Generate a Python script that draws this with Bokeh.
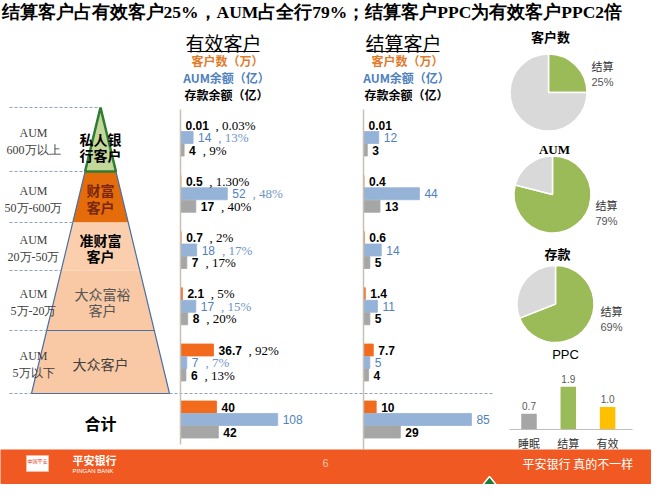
import math
from bokeh.plotting import figure
from bokeh.models import Range1d, ColumnDataSource
from bokeh.embed import file_html
from bokeh.resources import INLINE
from bokeh.core.properties import value

# ---------------- data ----------------
title = "结算客户占有效客户25%，AUM占全行79%；结算客户PPC为有效客户PPC2倍"
segments = [["私人银", "行客户"], ["财富", "客户"], ["准财富", "客户"], ["大众富裕", "客户"], ["大众客户"]]
aum_bands = ["600万以上", "50万-600万", "20万-50万", "5万-20万", "5万以下"]

eff_cust = [0.01, 0.5, 0.7, 2.1, 36.7]
eff_cust_pct = ["0.03%", "1.30%", "2%", "5%", "92%"]
eff_aum = [14, 52, 18, 17, 7]
eff_aum_pct = ["13%", "48%", "17%", "15%", "7%"]
eff_dep = [4, 17, 7, 8, 6]
eff_dep_pct = ["9%", "40%", "17%", "20%", "13%"]
eff_total = [40, 108, 42]

set_cust = [0.01, 0.4, 0.6, 1.4, 7.7]
set_aum = [12, 44, 14, 11, 5]
set_dep = [3, 13, 5, 5, 4]
set_total = [10, 85, 29]

pie_titles = ["客户数", "AUM", "存款"]
pie_share = [25, 79, 69]

ppc_cats = ["睡眠", "结算", "有效"]
ppc_vals = [0.7, 1.9, 1.0]

# ---------------- style ----------------
CJK = value("Noto Sans CJK SC")
SERIF = value("Liberation Serif")
SANS = value("Liberation Sans")
ORANGE = "#f26b1d"
BLUE = "#95b3d7"
GRAY = "#a6a6a6"
GREEN = "#9bbb59"
BLUE_TXT = "#4f81bd"

p = figure(width=651, height=484, x_range=Range1d(8, 659), y_range=Range1d(492, 8),
           output_backend="svg", toolbar_location=None, min_border=0,
           x_axis_location=None, y_axis_location=None)
p.grid.visible = False
p.outline_line_color = None
p.background_fill_color = "white"

EFF_X0, EFF_K = 188, 0.9
SET_X0, SET_K = 371, 1.27
PPC_Y0, PPC_K = 437, 22.5
p.extra_x_ranges = {"eff": Range1d((8 - EFF_X0) / EFF_K, (659 - EFF_X0) / EFF_K),
                    "set": Range1d((8 - SET_X0) / SET_K, (659 - SET_X0) / SET_K)}
p.extra_y_ranges = {"ppc": Range1d((PPC_Y0 - 492) / PPC_K, (PPC_Y0 - 8) / PPC_K)}

# ---------------- title ----------------
p.text(x=[9], y=[19], text=[title], text_font=SERIF, text_font_size="17.5px",
       text_font_style="bold", text_baseline="middle", text_align="left", text_color="black")

# ---------------- pyramid ----------------
AX, AY, BY, BH = 108, 115, 401, 69
bounds = [115, 179, 230, 278, 338, 401]
def hw(y):
    return BH * (y - AY) / (BY - AY)
layer_cols = ["#c4d79b", "#e46c0a", "#fbcfae", "#f9c8a4", "#f9c8a4"]
xs, ys = [], []
for i in range(5):
    t, b = bounds[i], bounds[i + 1]
    xs.append([AX - hw(t), AX + hw(t), AX + hw(b), AX - hw(b)])
    ys.append([t, t, b, b])
p.patches(xs=xs, ys=ys, fill_color=layer_cols, line_color=None)
p.line(x=[AX - BH, AX, AX + BH], y=[BY, AY, BY], line_color="#4a6fa5", line_width=1.2)
p.segment(x0=[AX - hw(338)], x1=[AX + hw(338)], y0=[338], y1=[338], line_color="#4a6fa5", line_width=1.2)
p.patch(x=xs[0], y=ys[0], fill_color=None, line_color="#2e7d32", line_width=2.5)

# dashed guides
dash_y = bounds[:-1]
p.segment(x0=[17] * len(dash_y), x1=[AX - hw(y) for y in dash_y], y0=dash_y, y1=dash_y,
          line_color="#8fa3bd", line_dash="3 2", line_width=1)
p.segment(x0=[17], x1=[500], y0=[BY], y1=[BY], line_color="#8fa3bd", line_dash="3 2", line_width=1)
p.segment(x0=[AX - BH], x1=[AX + BH], y0=[BY], y1=[BY], line_color="#4a6fa5", line_width=1.2)

# layer labels
seg_col = ["black", "#7b260a", "black", "#555555", "#404040"]
seg_style = ["bold", "bold", "bold", "normal", "normal"]
tx, ty, tt, tc, ts = [], [], [], [], []
for i, lines in enumerate(segments):
    t, b = bounds[i], bounds[i + 1]
    mid = t + 0.62 * (b - t) if i == 0 else (t + b) / 2 + 1.5
    n = len(lines)
    for j, s in enumerate(lines):
        tx.append(AX + (2 if i == 3 else 0))
        ty.append(mid + (j - (n - 1) / 2) * 16.5)
        tt.append(s)
        tc.append(seg_col[i])
        ts.append(seg_style[i])
p.text(x="x", y="y", text="t", text_color="c", text_font_style="s",
       source=ColumnDataSource(dict(x=tx, y=ty, t=tt, c=tc, s=ts)),
       text_font=CJK, text_font_size="14px", text_align="center", text_baseline="middle")

# AUM band labels
lx, ly, lt = [], [], []
for i, band in enumerate(aum_bands):
    t, b = bounds[i], bounds[i + 1]
    mid = (t + b) / 2 + 2
    lx += [41, 41]
    ly += [mid - 8.5, mid + 8.5]
    lt += ["AUM", band]
p.text(x=lx, y=ly, text=lt, text_font=SERIF, text_font_size="12px", text_color="#404040",
       text_align="center", text_baseline="middle")

p.text(x=[AX], y=[430], text=["合计"], text_font=CJK, text_font_size="16px",
       text_font_style="bold", text_align="center", text_baseline="middle", text_color="black")

# ---------------- bar panels ----------------
G0, GSTEP, ROW = 145, 56.25, 12.5
centers = [G0 + GSTEP * i for i in range(5)]
TOTAL_Y = 427

def fmt(v):
    return str(int(v)) if float(v).is_integer() else str(v)

def est_w(s):
    return sum(3.2 if ch == "." else 6.6 for ch in s)

def panel(rng, cust, aum, dep, total, pcts=None):
    by, bv, bc = [], [], []
    vy, vv, vt, vc, vs = [], [], [], [], []
    py_, pv, pt, pc, po = [], [], [], [], []
    rows = []
    for i, c in enumerate(centers):
        rows.append((c - ROW, cust[i], ORANGE, pcts[0][i] if pcts else None))
        rows.append((c, aum[i], BLUE, pcts[1][i] if pcts else None))
        rows.append((c + ROW, dep[i], GRAY, pcts[2][i] if pcts else None))
    for off, v, col in zip((-ROW, 0, ROW), total, (ORANGE, BLUE, GRAY)):
        rows.append((TOTAL_Y + off, v, col, None))
    for y, v, col, pct in rows:
        by.append(y); bv.append(v); bc.append(col)
        s = fmt(v)
        is_blue = col == BLUE
        vy.append(y); vv.append(v); vt.append(s)
        vc.append(BLUE_TXT if is_blue else "black")
        vs.append("normal" if is_blue else "bold")
        if pct:
            py_.append(y); pv.append(v); pt.append(", " + pct)
            pc.append("#6f95c6" if is_blue else "black")
            po.append(5 + est_w(s) + 7)
    p.hbar(y=by, left=0, right=bv, height=12, fill_color=bc, line_color=bc, line_width=0.8,
           x_range_name=rng)
    p.text(x="x", y="y", text="t", text_color="c", text_font_style="s",
           source=ColumnDataSource(dict(x=vv, y=vy, t=vt, c=vc, s=vs)), x_range_name=rng,
           x_offset=5, text_font=SANS, text_font_size="12px", text_baseline="middle",
           text_align="left")
    if pt:
        p.text(x="x", y="y", text="t", text_color="c", x_offset="o",
               source=ColumnDataSource(dict(x=pv, y=py_, t=pt, c=pc, o=po)), x_range_name=rng,
               text_font=SERIF, text_font_size="13px", text_baseline="middle", text_align="left")

panel("eff", eff_cust, eff_aum, eff_dep, eff_total, (eff_cust_pct, eff_aum_pct, eff_dep_pct))
panel("set", set_cust, set_aum, set_dep, set_total)

# axis lines
p.segment(x0=[0], x1=[0], y0=[117], y1=[452], x_range_name="eff", line_color="#c8bfb5", line_width=1.5)
p.segment(x0=[0], x1=[0], y0=[117], y1=[457], x_range_name="set", line_color="#c8bfb5", line_width=1.5)

# headers
for cx, name in ((231, "有效客户"), (411, "结算客户")):
    p.text(x=[cx], y=[50], text=[name], text_font=CJK, text_font_size="19px",
           text_align="center", text_baseline="middle", text_color="black")
    p.segment(x0=[cx - 36], x1=[cx + 36], y0=[59], y1=[59], line_color="black", line_width=1)
    p.text(x=[cx + 4, cx + 3, cx + 3], y=[68, 85, 102],
           text=["客户数（万）", "AUM余额（亿）", "存款余额（亿）"],
           text_color=["#e07b2a", BLUE_TXT, "black"], text_font=CJK, text_font_size="12px",
           text_font_style="bold", text_align="center", text_baseline="middle")

# ---------------- pies ----------------
pie_cx = [556, 560, 563]
pie_cy = [100, 202, 311.5]
pie_ty = [44, 157, 261]
lab_x = [599, 603, 608]
lab_y = [73, 212, 318]
R = 38.5
for i, s in enumerate(pie_share):
    f = s / 100.0
    a0 = math.pi / 2 - 2 * math.pi * f
    p.wedge(x=[pie_cx[i]], y=[pie_cy[i]], radius=R, start_angle=a0, end_angle=math.pi / 2,
            fill_color=GREEN, line_color="white", line_width=1.5)
    p.wedge(x=[pie_cx[i]], y=[pie_cy[i]], radius=R, start_angle=math.pi / 2,
            end_angle=a0 + 2 * math.pi, fill_color="#d9d9d9", line_color="white", line_width=1.5)
    p.text(x=[pie_cx[i] + 2], y=[pie_ty[i]], text=[pie_titles[i]],
           text_font=SERIF if pie_titles[i] == "AUM" else CJK, text_font_size="13px",
           text_font_style="bold", text_align="center", text_baseline="middle", text_color="black")
    p.text(x=[lab_x[i]], y=[lab_y[i]], text=["结算"], text_font=CJK, text_font_size="11px",
           text_align="left", text_baseline="middle", text_color="#333333")
    p.text(x=[lab_x[i]], y=[lab_y[i] + 16.5], text=[f"{s}%"], text_font=SANS, text_font_size="11px",
           text_align="left", text_baseline="middle", text_color="#555555")

# ---------------- PPC bars ----------------
ppc_x = [536.5 + 39.3 * i for i in range(3)]
ppc_cols = [GRAY, GREEN, "#ffc000"]
p.vbar(x=ppc_x, width=15.5, bottom=0, top=ppc_vals, fill_color=ppc_cols, line_color=None,
       y_range_name="ppc")
p.segment(x0=[517], x1=[640], y0=[0], y1=[0], y_range_name="ppc", line_color="#bfbfbf", line_width=1)
p.text(x=ppc_x, y=ppc_vals, text=[f"{v:.1f}" for v in ppc_vals], y_range_name="ppc", y_offset=-4,
       text_font=SANS, text_font_size="10px", text_color="#595959", text_align="center",
       text_baseline="bottom")
p.text(x=ppc_x, y=[450] * 3, text=ppc_cats, text_font=CJK, text_font_size="11px",
       text_color="#333333", text_align="center", text_baseline="middle")
p.text(x=[573], y=[362], text=["PPC"], text_font=SANS, text_font_size="13px",
       text_color="black", text_align="center", text_baseline="middle")

# ---------------- footer ----------------
p.quad(left=[0], right=[667], top=[457], bottom=[500], fill_color="#f05a22", line_color=None)
p.quad(left=[34], right=[56], top=[463], bottom=[479], fill_color="white", line_color="#f7b9a0")
p.text(x=[45], y=[468], text=["中国平安"], text_font=CJK, text_font_size="5px", text_color="#d9341c",
       text_align="center", text_baseline="middle")
p.text(x=[80], y=[467], text=["平安银行"], text_font=CJK, text_font_size="11px", text_font_style="bold",
       text_color="white", text_align="left", text_baseline="middle")
p.text(x=[80], y=[478], text=["PINGAN BANK"], text_font=SANS, text_font_size="6px",
       text_color="white", text_align="left", text_baseline="middle")
p.text(x=[333], y=[470], text=["6"], text_font=SANS, text_font_size="11px", text_color="#fbc2a6",
       text_align="center", text_baseline="middle")
p.text(x=[530], y=[471], text=["平安银行  真的不一样"], text_font=CJK, text_font_size="12px",
       text_color="white", text_align="left", text_baseline="middle")
p.patch(x=[484, 497, 510], y=[500, 484, 500], fill_color="#1f7a3a", line_color="white", line_width=1.5)

open("out.html", "w").write(file_html(p, INLINE))
